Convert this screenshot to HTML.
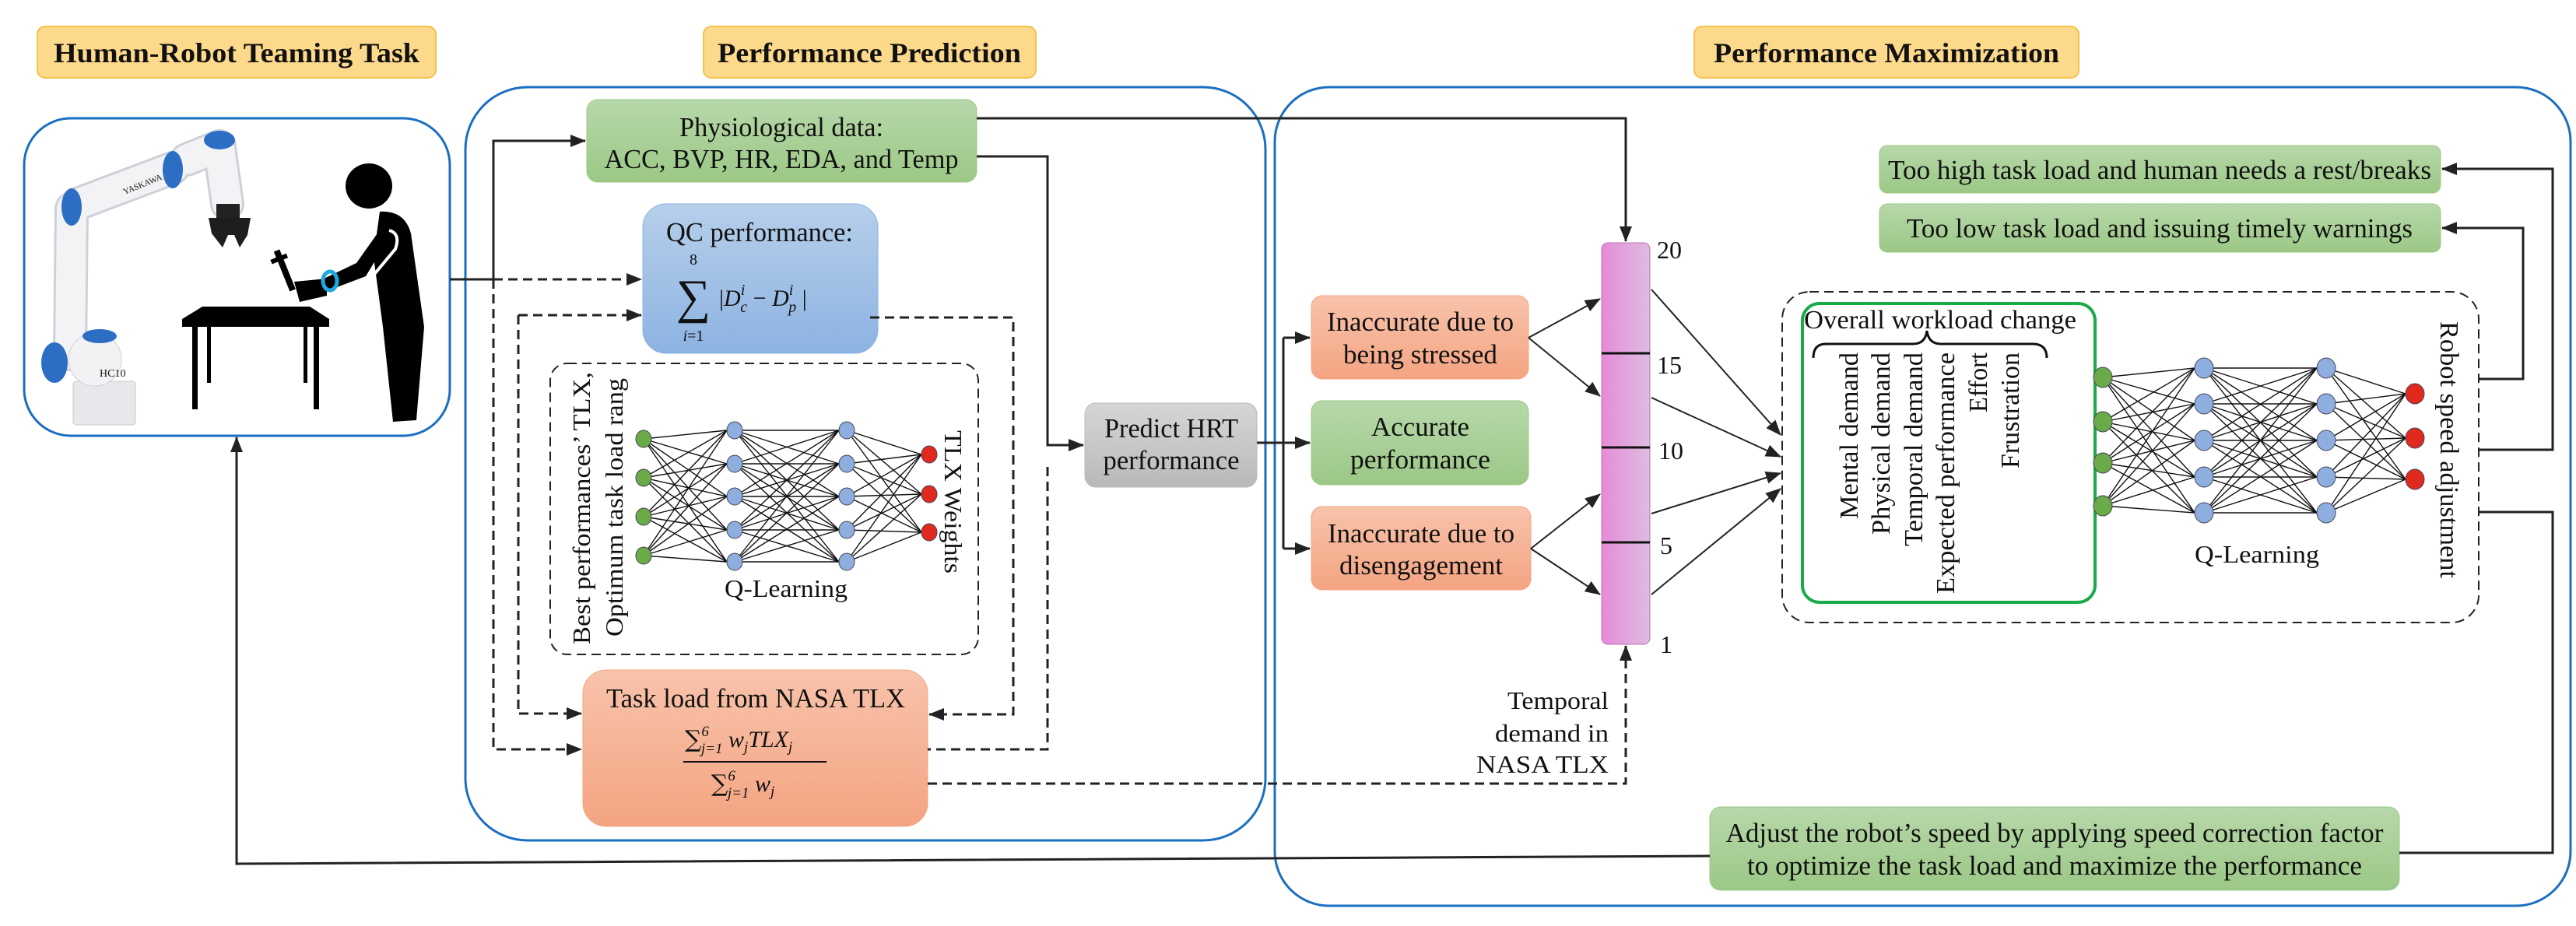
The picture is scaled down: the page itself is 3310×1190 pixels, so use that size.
<!DOCTYPE html>
<html><head><meta charset="utf-8"><style>
html,body{margin:0;padding:0;background:#fff}
svg{display:block}
text{font-family:"Liberation Serif",serif;fill:#111}
</style></head><body>
<svg id="s" width="3310" height="1190" viewBox="0 0 3310 1190" xmlns="http://www.w3.org/2000/svg" font-family="Liberation Serif, serif">
<defs>
<marker id="a" markerUnits="userSpaceOnUse" markerWidth="20" markerHeight="20" viewBox="0 0 20 20" refX="19" refY="10" orient="auto"><path d="M0,2 L20,10 L0,18 z" fill="#222"/></marker>
<linearGradient id="gG" x1="0" y1="0" x2="0" y2="1"><stop offset="0" stop-color="#b7d8aa"/><stop offset="1" stop-color="#9cc886"/></linearGradient>
<linearGradient id="gB" x1="0" y1="0" x2="0" y2="1"><stop offset="0" stop-color="#b6cfea"/><stop offset="1" stop-color="#8db3e2"/></linearGradient>
<linearGradient id="gO" x1="0" y1="0" x2="0" y2="1"><stop offset="0" stop-color="#f8c3ab"/><stop offset="1" stop-color="#f4a482"/></linearGradient>
<linearGradient id="gGr" x1="0" y1="0" x2="0" y2="1"><stop offset="0" stop-color="#d6d6d6"/><stop offset="1" stop-color="#b9b9b9"/></linearGradient>
<linearGradient id="gP" x1="0" y1="0" x2="1" y2="0"><stop offset="0" stop-color="#e88ad8"/><stop offset="1" stop-color="#dcbde0"/></linearGradient>
</defs>

<!-- titles -->
<g stroke="#f2c24a" stroke-width="2" fill="#fdd98c">
<rect x="48" y="34" width="512" height="66" rx="10"/>
<rect x="904" y="34" width="427" height="66" rx="10"/>
<rect x="2177" y="34" width="494" height="66" rx="10"/>
</g>
<g font-weight="bold" font-size="36">
<text x="304" y="80" text-anchor="middle" textLength="470" lengthAdjust="spacingAndGlyphs">Human-Robot Teaming Task</text>
<text x="1117" y="80" text-anchor="middle" textLength="390" lengthAdjust="spacingAndGlyphs">Performance Prediction</text>
<text x="2424" y="80" text-anchor="middle" textLength="444" lengthAdjust="spacingAndGlyphs">Performance Maximization</text>
</g>

<!-- frames -->
<g fill="none" stroke="#1a6fc0" stroke-width="3">
<rect x="31" y="152" width="547" height="408" rx="60"/>
<rect x="598" y="112" width="1028" height="968" rx="80"/>
<rect x="1638" y="112" width="1665" height="1052" rx="70"/>
</g>

<!-- robot -->
<g stroke-linecap="round">
<rect x="94" y="490" width="80" height="56" rx="4" fill="#e8e8ec" stroke="#c8c8d0"/>
<g stroke="#cfd0d8" stroke-width="44" fill="none">
<line x1="90" y1="455" x2="92" y2="268"/><line x1="100" y1="262" x2="222" y2="216"/>
<line x1="240" y1="205" x2="282" y2="188"/><line x1="282" y1="190" x2="292" y2="262"/>
</g>
<g stroke="#f3f3f6" stroke-width="38" fill="none">
<line x1="90" y1="455" x2="92" y2="268"/><line x1="100" y1="262" x2="222" y2="216"/>
<line x1="240" y1="205" x2="282" y2="188"/><line x1="282" y1="190" x2="292" y2="262"/>
</g>
<circle cx="122" cy="462" r="34" fill="#f2f2f5" stroke="#cfd0d8"/>
<ellipse cx="70" cy="466" rx="17" ry="26" fill="#2b6ec4"/>
<ellipse cx="128" cy="432" rx="22" ry="9" fill="#2b6ec4"/>
<ellipse cx="92" cy="266" rx="13" ry="24" fill="#2b6ec4"/>
<ellipse cx="222" cy="218" rx="13" ry="24" fill="#2b6ec4"/>
<ellipse cx="282" cy="180" rx="20" ry="12" fill="#2b6ec4"/>
<rect x="278" y="262" width="30" height="18" fill="#222"/>
<path d="M268 280 L322 280 L318 302 L308 318 L301 302 L293 302 L286 318 L272 300 Z" fill="#1e1e1e"/>
<text x="160" y="250" font-family="Liberation Sans" font-size="11" fill="#2b6ec4" transform="rotate(-22 160 250)">YASKAWA</text>
<text x="128" y="484" font-family="Liberation Sans" font-size="14" fill="#2b6ec4">HC10</text>
</g>
<!-- person -->
<g fill="#000">
<ellipse cx="474" cy="239" rx="30" ry="29"/>
<path d="M488 272 Q520 270 528 300 L545 420 L535 540 L505 542 L492 420 L480 330 Z"/>
<path d="M492 290 L502 302 L470 355 L420 374 L412 360 L458 338 Z"/>
<path d="M378 362 L420 358 L420 380 L385 388 Z"/>
<rect x="362" y="320" width="8" height="55" transform="rotate(-22 366 348)"/>
<rect x="354" y="328" width="22" height="6" transform="rotate(-22 366 348)"/>
<path d="M234 410 L260 394 L398 394 L423 410 L423 420 L234 420 Z"/>
<rect x="247" y="420" width="7" height="106"/><rect x="403" y="420" width="7" height="106"/>
<rect x="266" y="420" width="5" height="72"/><rect x="390" y="420" width="5" height="72"/>
</g>
<ellipse cx="424" cy="361" rx="9" ry="12" fill="none" stroke="#1fa8e0" stroke-width="5"/>
<path d="M500 296 Q515 300 508 320 L478 356" fill="none" stroke="#fff" stroke-width="4"/>

<!-- prediction boxes -->
<rect x="754" y="128" width="501" height="106" rx="14" fill="url(#gG)" stroke="#9cc886"/>
<text x="1004" y="175" font-size="35" text-anchor="middle" textLength="262" lengthAdjust="spacingAndGlyphs">Physiological data:</text>
<text x="1004" y="216" font-size="35" text-anchor="middle" textLength="455" lengthAdjust="spacingAndGlyphs">ACC, BVP, HR, EDA, and Temp</text>

<rect x="826" y="262" width="302" height="192" rx="30" fill="url(#gB)" stroke="#8db3e2"/>
<text x="976" y="310" font-size="35" text-anchor="middle" textLength="240" lengthAdjust="spacingAndGlyphs">QC performance:</text>
<text x="891" y="340" font-size="20" text-anchor="middle">8</text>
<text x="891" y="402" font-size="62" text-anchor="middle" font-family="DejaVu Sans">∑</text>
<text x="891" y="438" font-size="20" text-anchor="middle" font-style="italic">i<tspan font-style="normal">=1</tspan></text>
<text x="924" y="393" font-size="30">|<tspan font-style="italic">D</tspan><tspan font-size="20" font-style="italic" dy="-14">i</tspan><tspan font-size="20" font-style="italic" dx="-6" dy="22">c</tspan><tspan dy="-8"> − </tspan><tspan font-style="italic">D</tspan><tspan font-size="20" font-style="italic" dy="-14">i</tspan><tspan font-size="20" font-style="italic" dx="-6" dy="22">p</tspan><tspan dy="-8"> |</tspan></text>

<rect x="707" y="467" width="550" height="374" rx="22" fill="none" stroke="#222" stroke-width="2" stroke-dasharray="12 7"/>
<g id="nn1"></g>
<text x="1010" y="767" font-size="32" text-anchor="middle" textLength="158" lengthAdjust="spacingAndGlyphs">Q-Learning</text>
<text transform="translate(758 828) rotate(-90)" font-size="32" textLength="350" lengthAdjust="spacingAndGlyphs">Best performances’ TLX,</text>
<text transform="translate(800 818) rotate(-90)" font-size="32" textLength="332" lengthAdjust="spacingAndGlyphs">Optimum task load rang</text>
<text transform="translate(1214 553) rotate(90)" font-size="32" textLength="184" lengthAdjust="spacingAndGlyphs">TLX Weights</text>

<rect x="749" y="861" width="443" height="201" rx="30" fill="url(#gO)" stroke="#f4a482"/>
<text x="971" y="909" font-size="35" text-anchor="middle" textLength="384" lengthAdjust="spacingAndGlyphs">Task load from NASA TLX</text>
<text x="880" y="960" font-size="30" font-style="italic"><tspan font-style="normal" font-family="DejaVu Serif">∑</tspan><tspan font-size="19" dy="-14">6</tspan><tspan font-size="19" dx="-10" dy="22">j=1</tspan><tspan dy="-8"> w</tspan><tspan font-size="19" dy="6">j</tspan><tspan dy="-6">TLX</tspan><tspan font-size="19" dy="6">j</tspan></text>
<line x1="878" y1="979" x2="1062" y2="979" stroke="#111" stroke-width="2"/>
<text x="914" y="1017" font-size="30" font-style="italic"><tspan font-style="normal" font-family="DejaVu Serif">∑</tspan><tspan font-size="19" dy="-14">6</tspan><tspan font-size="19" dx="-10" dy="22">j=1</tspan><tspan dy="-8"> w</tspan><tspan font-size="19" dy="6">j</tspan></text>

<rect x="1394" y="518" width="221" height="108" rx="14" fill="url(#gGr)" stroke="#b9b9b9"/>
<text x="1505" y="562" font-size="35" text-anchor="middle" textLength="172" lengthAdjust="spacingAndGlyphs">Predict HRT</text>
<text x="1505" y="603" font-size="35" text-anchor="middle" textLength="175" lengthAdjust="spacingAndGlyphs">performance</text>

<!-- maximization boxes -->
<rect x="1685" y="380" width="279" height="107" rx="14" fill="url(#gO)" stroke="#f4a482"/>
<text x="1825" y="425" font-size="35" text-anchor="middle" textLength="240" lengthAdjust="spacingAndGlyphs">Inaccurate due to</text>
<text x="1825" y="467" font-size="35" text-anchor="middle" textLength="198" lengthAdjust="spacingAndGlyphs">being stressed</text>
<rect x="1685" y="515" width="279" height="108" rx="14" fill="url(#gG)" stroke="#9cc886"/>
<text x="1825" y="560" font-size="35" text-anchor="middle" textLength="126" lengthAdjust="spacingAndGlyphs">Accurate</text>
<text x="1825" y="602" font-size="35" text-anchor="middle" textLength="180" lengthAdjust="spacingAndGlyphs">performance</text>
<rect x="1685" y="651" width="282" height="107" rx="14" fill="url(#gO)" stroke="#f4a482"/>
<text x="1826" y="697" font-size="35" text-anchor="middle" textLength="240" lengthAdjust="spacingAndGlyphs">Inaccurate due to</text>
<text x="1826" y="738" font-size="35" text-anchor="middle" textLength="210" lengthAdjust="spacingAndGlyphs">disengagement</text>

<rect x="2058" y="312" width="62" height="516" rx="8" fill="url(#gP)" stroke="#c070b8"/>
<g stroke="#111" stroke-width="3"><line x1="2058" y1="454" x2="2120" y2="454"/><line x1="2058" y1="575" x2="2120" y2="575"/><line x1="2058" y1="697" x2="2120" y2="697"/></g>
<g font-size="32"><text x="2129" y="332">20</text><text x="2129" y="480">15</text><text x="2131" y="590">10</text><text x="2133" y="712">5</text><text x="2133" y="839">1</text></g>
<g font-size="32" text-anchor="end"><text x="2067" y="911" textLength="130" lengthAdjust="spacingAndGlyphs">Temporal</text><text x="2067" y="953" textLength="146" lengthAdjust="spacingAndGlyphs">demand in</text><text x="2067" y="993" textLength="170" lengthAdjust="spacingAndGlyphs">NASA TLX</text></g>

<rect x="2415" y="187" width="721" height="61" rx="10" fill="url(#gG)" stroke="#9cc886"/>
<text x="2775" y="230" font-size="35" text-anchor="middle" textLength="698" lengthAdjust="spacingAndGlyphs">Too high task load and human needs a rest/breaks</text>
<rect x="2415" y="262" width="721" height="62" rx="10" fill="url(#gG)" stroke="#9cc886"/>
<text x="2775" y="305" font-size="35" text-anchor="middle" textLength="650" lengthAdjust="spacingAndGlyphs">Too low task load and issuing timely warnings</text>

<rect x="2290" y="375" width="895" height="425" rx="35" fill="none" stroke="#222" stroke-width="2" stroke-dasharray="12 7"/>
<rect x="2316" y="390" width="376" height="384" rx="22" fill="none" stroke="#1aaa48" stroke-width="4"/>
<text x="2493" y="422" font-size="34" text-anchor="middle" textLength="350" lengthAdjust="spacingAndGlyphs">Overall workload change</text>
<path d="M2330 460 Q2330 442 2346 442 L2458 442 Q2474 442 2476 425 Q2478 442 2494 442 L2612 442 Q2630 442 2630 460" fill="none" stroke="#111" stroke-width="3"/>
<g font-size="34" text-anchor="end">
<text transform="translate(2387 453) rotate(-90)" textLength="214" lengthAdjust="spacingAndGlyphs">Mental demand</text>
<text transform="translate(2428 453) rotate(-90)" textLength="234" lengthAdjust="spacingAndGlyphs">Physical demand</text>
<text transform="translate(2470 453) rotate(-90)" textLength="249" lengthAdjust="spacingAndGlyphs">Temporal demand</text>
<text transform="translate(2511 453) rotate(-90)" textLength="310" lengthAdjust="spacingAndGlyphs">Expected performance</text>
<text transform="translate(2553 453) rotate(-90)" textLength="77" lengthAdjust="spacingAndGlyphs">Effort</text>
<text transform="translate(2594 453) rotate(-90)" textLength="149" lengthAdjust="spacingAndGlyphs">Frustration</text>
</g>
<g id="nn2"></g>
<text x="2900" y="723" font-size="32" text-anchor="middle" textLength="160" lengthAdjust="spacingAndGlyphs">Q-Learning</text>
<text transform="translate(3136 413) rotate(90)" font-size="34" textLength="330" lengthAdjust="spacingAndGlyphs">Robot speed adjustment</text>

<rect x="2197" y="1037" width="886" height="107" rx="14" fill="url(#gG)" stroke="#9cc886"/>
<text x="2640" y="1082" font-size="35" text-anchor="middle" textLength="845" lengthAdjust="spacingAndGlyphs">Adjust the robot’s speed by applying speed correction factor</text>
<text x="2640" y="1124" font-size="35" text-anchor="middle" textLength="790" lengthAdjust="spacingAndGlyphs">to optimize the task load and maximize the performance</text>

<!-- connectors -->
<g fill="none" stroke="#222" stroke-width="3">
<polyline points="578,359 634,359"/>
<polyline points="634,359 634,181 752,181" marker-end="url(#a)"/>
<polyline points="1255,152 2089,152 2089,310" marker-end="url(#a)"/>
<polyline points="1255,201 1346,201 1346,572 1392,572" marker-end="url(#a)"/>
<polyline points="1615,569 1649,569"/>
<polyline points="1649,434 1649,705"/>
<polyline points="1649,434 1683,434" marker-end="url(#a)"/>
<polyline points="1649,569 1683,569" marker-end="url(#a)"/>
<polyline points="1649,705 1683,705" marker-end="url(#a)"/>
<line x1="1964" y1="434" x2="2056" y2="384" marker-end="url(#a)" stroke-width="2"/>
<line x1="1964" y1="434" x2="2056" y2="509" marker-end="url(#a)" stroke-width="2"/>
<line x1="1967" y1="705" x2="2056" y2="635" marker-end="url(#a)" stroke-width="2"/>
<line x1="1967" y1="705" x2="2056" y2="764" marker-end="url(#a)" stroke-width="2"/>
<line x1="2122" y1="372" x2="2288" y2="559" marker-end="url(#a)" stroke-width="2"/>
<line x1="2122" y1="511" x2="2288" y2="587" marker-end="url(#a)" stroke-width="2"/>
<line x1="2122" y1="660" x2="2288" y2="608" marker-end="url(#a)" stroke-width="2"/>
<line x1="2122" y1="764" x2="2288" y2="628" marker-end="url(#a)" stroke-width="2"/>
<polyline points="3185,578 3280,578 3280,217 3138,217" marker-end="url(#a)"/>
<polyline points="3185,487 3242,487 3242,293 3138,293" marker-end="url(#a)"/>
<polyline points="3185,658 3280,658 3280,1096 3083,1096"/>
<polyline points="2197,1100 304,1110 304,562" marker-end="url(#a)"/>
</g>
<g fill="none" stroke="#222" stroke-width="3" stroke-dasharray="12 7">
<polyline points="634,359 824,359" marker-end="url(#a)"/>
<polyline points="634,359 634,963 747,963" marker-end="url(#a)"/>
<polyline points="666,405 824,405" marker-end="url(#a)"/>
<polyline points="666,405 666,917 747,917" marker-end="url(#a)"/>
<polyline points="1118,408 1302,408 1302,918 1194,918" marker-end="url(#a)"/>
<polyline points="1346,600 1346,963 1192,963"/>
<polyline points="1192,1007 2089,1007 2089,830" marker-end="url(#a)"/>
</g>
</svg>
<script>
function nn(g,layers,r){
 var ns="http://www.w3.org/2000/svg",el=document.getElementById(g),cols=["#6aaa48","#8eaee0","#8eaee0","#e02a20"];
 for(var l=0;l<layers.length-1;l++){var A=layers[l],B=layers[l+1];
  for(var i=0;i<A.y.length;i++)for(var j=0;j<B.y.length;j++){var ln=document.createElementNS(ns,"line");
   ln.setAttribute("x1",A.x);ln.setAttribute("y1",A.y[i]);ln.setAttribute("x2",B.x-r);ln.setAttribute("y2",B.y[j]);
   ln.setAttribute("stroke","#111");ln.setAttribute("stroke-width","1.4");el.appendChild(ln);}}
 layers.forEach(function(L,k){L.y.forEach(function(y){var c=document.createElementNS(ns,"ellipse");
  c.setAttribute("cx",L.x);c.setAttribute("cy",y);c.setAttribute("rx",r);c.setAttribute("ry",r+1);
  c.setAttribute("fill",cols[k]);c.setAttribute("stroke","#445");c.setAttribute("stroke-width","1");el.appendChild(c);});});
}
nn("nn1",[{x:827,y:[564,614,664,714]},{x:944,y:[553,596,638,681,722]},{x:1088,y:[553,596,638,681,722]},{x:1194,y:[584,635,684]}],10);
nn("nn2",[{x:2702,y:[485,542,595,650]},{x:2832,y:[473,519,566,613,659]},{x:2989,y:[473,519,566,613,659]},{x:3103,y:[506,563,616]}],12);
</script>
</body></html>
